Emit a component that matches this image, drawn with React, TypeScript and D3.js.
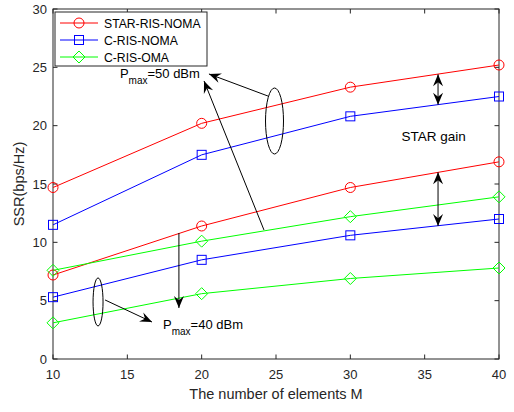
import React from "react";
import * as d3 from "d3";

const elementsM = [10, 20, 30, 40];
const starNoma50 = [14.7, 20.2, 23.3, 25.2];
const cNoma50 = [11.5, 17.5, 20.8, 22.5];
const starNoma40 = [7.2, 11.4, 14.7, 16.9];
const cOma50 = [7.6, 10.1, 12.2, 13.9];
const cNoma40 = [5.3, 8.5, 10.6, 12.0];
const cOma40 = [3.1, 5.6, 6.9, 7.8];
const xTicks = [10, 15, 20, 25, 30, 35, 40];
const yTicks = [0, 5, 10, 15, 20, 25, 30];
const legendNames = ["STAR-RIS-NOMA", "C-RIS-NOMA", "C-RIS-OMA"];

const RED = "#ff0000";
const BLUE = "#0000ff";
const GREEN = "#00ff00";
const AX = "#262626";
const FONT = "'Liberation Sans', Arial, sans-serif";

const series = [
  { vals: starNoma50, color: RED, marker: "circle" },
  { vals: cNoma50, color: BLUE, marker: "square" },
  { vals: starNoma40, color: RED, marker: "circle" },
  { vals: cOma50, color: GREEN, marker: "diamond" },
  { vals: cNoma40, color: BLUE, marker: "square" },
  { vals: cOma40, color: GREEN, marker: "diamond" },
];

const W = 514, H = 412;
const L = 53, R = 499, T = 9, B = 359;
const x = d3.scaleLinear().domain([10, 40]).range([L, R]);
const y = d3.scaleLinear().domain([0, 30]).range([B, T]);

function Marker({ type, cx, cy, color }: any) {
  if (type === "circle") return <circle cx={cx} cy={cy} r={5} fill="none" stroke={color} strokeWidth={1} />;
  if (type === "square") return <rect x={cx - 4.5} y={cy - 4.5} width={9} height={9} fill="none" stroke={color} strokeWidth={1} />;
  const s = 6;
  return <path d={`M${cx},${cy - s}L${cx + s},${cy}L${cx},${cy + s}L${cx - s},${cy}Z`} fill="none" stroke={color} strokeWidth={1} />;
}

function head(tx: number, ty: number, fx: number, fy: number) {
  const dx = tx - fx, dy = ty - fy;
  const len = Math.hypot(dx, dy);
  const ux = dx / len, uy = dy / len;
  const nx = -uy, ny = ux;
  const Lh = 12, Wh = 5;
  const p = [
    [tx, ty],
    [tx - Lh * ux + Wh * nx, ty - Lh * uy + Wh * ny],
    [tx - 0.65 * Lh * ux, ty - 0.65 * Lh * uy],
    [tx - Lh * ux - Wh * nx, ty - Lh * uy - Wh * ny],
  ];
  return "M" + p.map((q) => q.join(",")).join("L") + "Z";
}

function Arrow({ from, to, both }: any) {
  const [fx, fy] = [x(from[0]), y(from[1])];
  const [tx, ty] = [x(to[0]), y(to[1])];
  return (
    <g>
      <line x1={fx} y1={fy} x2={tx} y2={ty} stroke="#000" strokeWidth={1} />
      <path d={head(tx, ty, fx, fy)} fill="#000" />
      {both && <path d={head(fx, fy, tx, ty)} fill="#000" />}
    </g>
  );
}

export default function App() {
  const line = d3.line<number>().x((_, i) => x(elementsM[i])).y((d) => y(d));
  return (
    <svg width={W} height={H} style={{ position: "absolute", left: 0, top: 0, background: "#fff" }} fontFamily={FONT}>
      <rect x={0} y={0} width={W} height={H} fill="#fff" />
      {/* axes box */}
      <rect x={L} y={T} width={R - L} height={B - T} fill="none" stroke={AX} strokeWidth={1} />
      {xTicks.map((t) => (
        <g key={"x" + t}>
          <line x1={x(t)} x2={x(t)} y1={B} y2={B - 4.5} stroke={AX} />
          <line x1={x(t)} x2={x(t)} y1={T} y2={T + 4.5} stroke={AX} />
          <text x={x(t)} y={B + 20} textAnchor="middle" fontSize={13} fill={AX}>{t}</text>
        </g>
      ))}
      {yTicks.map((t) => (
        <g key={"y" + t}>
          <line x1={L} x2={L + 4.5} y1={y(t)} y2={y(t)} stroke={AX} />
          <line x1={R} x2={R - 4.5} y1={y(t)} y2={y(t)} stroke={AX} />
          <text x={L - 6} y={y(t) + 4.5} textAnchor="end" fontSize={13} fill={AX}>{t}</text>
        </g>
      ))}
      <text x={(L + R) / 2} y={399} textAnchor="middle" fontSize={14.5} fill={AX}>The number of elements M</text>
      <text transform={`translate(24,${(T + B) / 2}) rotate(-90)`} textAnchor="middle" fontSize={14.5} fill={AX}>SSR(bps/Hz)</text>

      {series.map((s, k) => (
        <g key={k}>
          <path d={line(s.vals) || ""} fill="none" stroke={s.color} strokeWidth={1} />
          {s.vals.map((v, i) => (
            <Marker key={i} type={s.marker} cx={x(elementsM[i])} cy={y(v)} color={s.color} />
          ))}
        </g>
      ))}

      {/* annotations for Pmax = 50 dBm */}
      <ellipse cx={x(24.9)} cy={y(20.4)} rx={9} ry={33} fill="none" stroke="#000" strokeWidth={1} />
      <Arrow from={[24.46, 22.54]} to={[20.49, 24.43]} />
      <Arrow from={[24.19, 11.06]} to={[20.16, 23.83]} />
      <text x={x(14.5)} y={y(24.1)} fontSize={13} fill="#000">
        P<tspan fontSize={10} dy={6}>max</tspan><tspan dy={-6}>=50 dBm</tspan>
      </text>

      {/* STAR gain */}
      <Arrow from={[35.9, 21.8]} to={[35.9, 24.4]} both />
      <Arrow from={[35.9, 11.4]} to={[35.9, 16.0]} both />
      <text x={x(35.6)} y={y(18.7)} textAnchor="middle" fontSize={13.5} fill="#000">STAR gain</text>

      {/* annotations for Pmax = 40 dBm */}
      <ellipse cx={x(13.03)} cy={y(4.89)} rx={5} ry={24} fill="none" stroke="#000" strokeWidth={1} />
      <Arrow from={[13.5, 5.06]} to={[16.66, 3.17]} />
      <Arrow from={[18.47, 10.8]} to={[18.47, 4.37]} />
      <text x={x(17.4)} y={y(2.57)} fontSize={13} fill="#000">
        P<tspan fontSize={10} dy={6}>max</tspan><tspan dy={-6}>=40 dBm</tspan>
      </text>

      {/* legend */}
      <rect x={55} y={12} width={152} height={54} fill="#fff" stroke={AX} strokeWidth={1} />
      {legendNames.map((n, i) => {
        const ly = 23 + i * 17;
        const c = [RED, BLUE, GREEN][i];
        const m = ["circle", "square", "diamond"][i];
        return (
          <g key={n}>
            <line x1={60} x2={98} y1={ly} y2={ly} stroke={c} strokeWidth={1} />
            <Marker type={m} cx={79} cy={ly} color={c} />
            <text x={104} y={ly + 4.5} fontSize={12.2} fill="#000">{n}</text>
          </g>
        );
      })}
    </svg>
  );
}
